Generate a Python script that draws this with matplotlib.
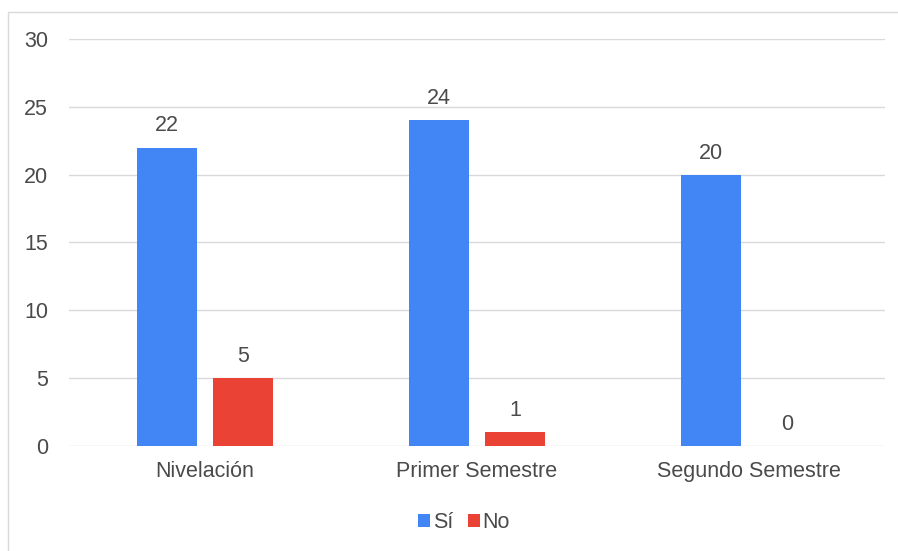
import numpy as np
import matplotlib.pyplot as plt
from matplotlib.patches import Rectangle

plt.rcParams['font.family'] = ['Liberation Sans', 'DejaVu Sans']

# datos
categorias = ['Nivelación', 'Primer Semestre', 'Segundo Semestre']
si = [22, 24, 20]
no = [5, 1, 0]

azul = '#4285F4'
rojo = '#EA4335'
gris_texto = '#4a4a4a'
tam = 15.5

fig = plt.figure(figsize=(8.98, 5.51), dpi=100)
ax = fig.add_axes([0.0768, 0.1906, 0.9087, 0.7386])

x = np.arange(len(categorias))
ancho = 0.22
b1 = ax.bar(x - 0.14, si, ancho, color=azul, label='Sí', zorder=3)
b2 = ax.bar(x + 0.14, no, ancho, color=rojo, label='No', zorder=3)

for barras in (b1, b2):
    for b in barras:
        ax.annotate(f'{int(b.get_height())}',
                    (b.get_x() + b.get_width() / 2, b.get_height()),
                    xytext=(0, 8), textcoords='offset points',
                    ha='center', va='bottom', fontsize=tam, color=gris_texto)

ax.set_xlim(-0.5, 2.5)
ax.set_ylim(0, 30)
ax.set_yticks(range(0, 31, 5))
ax.set_xticks(x)
ax.set_xticklabels(categorias)
ax.tick_params(axis='both', length=0, labelsize=tam, labelcolor=gris_texto)
ax.tick_params(axis='y', pad=15)
ax.tick_params(axis='x', pad=11)
ax.grid(axis='y', color='#d9d9d9', linewidth=1, zorder=0)
for s in ax.spines.values():
    s.set_visible(False)

leg = ax.legend(loc='upper center', bbox_to_anchor=(0.484, -0.115), ncol=2,
                frameon=False, fontsize=tam, handlelength=0.55, handleheight=0.55,
                handletextpad=0.12, columnspacing=0.7)
for t in leg.get_texts():
    t.set_color(gris_texto)

# marco exterior
fig.patches.append(Rectangle((8 / 898, -0.01), 0.995, 1 - 12 / 551 + 0.01,
                             transform=fig.transFigure, fill=False,
                             edgecolor='#d9d9d9', linewidth=1))

fig.savefig('out.png', dpi=100)
